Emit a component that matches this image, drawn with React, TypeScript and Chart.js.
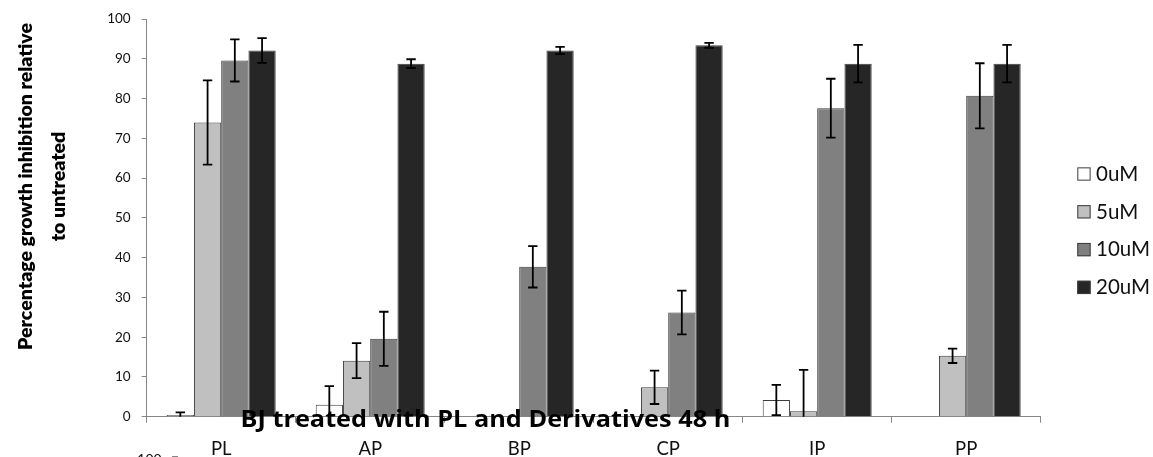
import React, { useEffect, useRef } from 'react';
import { Chart, registerables } from 'chart.js';

Chart.register(...registerables);

// ---------- data ----------
const categories = ['PL', 'AP', 'BP', 'CP', 'IP', 'PP'];
const seriesLabels = ['0uM', '5uM', '10uM', '20uM'];

const values0uM = [0.4, 3.0, 0, 0, 4.2, 0];
const errors0uM = [0.7, 4.7, 0, 0, 3.8, 0];

const values5uM = [74.0, 14.1, 0, 7.4, 1.4, 15.3];
const errors5uM = [10.6, 4.4, 0, 4.2, 10.4, 1.8];

const values10uM = [89.6, 19.6, 37.7, 26.2, 77.6, 80.7];
const errors10uM = [5.3, 6.8, 5.2, 5.5, 7.4, 8.2];

const values20uM = [92.1, 88.8, 92.1, 93.4, 88.8, 88.8];
const errors20uM = [3.1, 1.1, 0.9, 0.6, 4.7, 4.7];

const yMin = 0;
const yMax = 100;
const yStep = 10;

const chartTitle = 'BJ treated with PL and Derivatives 48 h';
const yTitleLines = ['Percentage growth inhibition relative', 'to untreated'];
const nextChartTickLabel = '100';

// ---------- styles ----------
const seriesColors = ['#ffffff', '#c0c0c0', '#808080', '#262626'];
const barBorder = '#3c3c3c';
const axisColor = '#868686';
const textColor = '#111111';
const FONT = 'Lato, "Open Sans", sans-serif';
const TITLE_FONT = '"Open Sans", Lato, sans-serif';

const allValues = [values0uM, values5uM, values10uM, values20uM];
const allErrors = [errors0uM, errors5uM, errors10uM, errors20uM];

const errorBarPlugin = {
  id: 'errorBars',
  afterDatasetsDraw(chart: any) {
    const { ctx, chartArea } = chart;
    const yScale = chart.scales.y;
    ctx.save();
    ctx.beginPath();
    ctx.rect(chartArea.left, chartArea.top - 20, chartArea.right - chartArea.left, chartArea.bottom - chartArea.top + 20);
    ctx.clip();
    ctx.strokeStyle = '#000000';
    ctx.lineWidth = 1.8;
    chart.data.datasets.forEach((ds: any, i: number) => {
      const meta = chart.getDatasetMeta(i);
      const errs = allErrors[i];
      meta.data.forEach((bar: any, j: number) => {
        const e = errs[j];
        if (!e) return;
        const v = ds.data[j];
        const x = bar.x;
        const yT = yScale.getPixelForValue(v + e);
        const yB = yScale.getPixelForValue(v - e);
        const hw = 4.7;
        ctx.beginPath();
        ctx.moveTo(x, yT);
        ctx.lineTo(x, yB);
        ctx.moveTo(x - hw, yT);
        ctx.lineTo(x + hw, yT);
        ctx.moveTo(x - hw, yB);
        ctx.lineTo(x + hw, yB);
        ctx.stroke();
      });
    });
    ctx.restore();
  },
};

const decorPlugin = {
  id: 'decor',
  afterDraw(chart: any) {
    const { ctx } = chart;
    ctx.save();
    // legend
    const boxLeft = 1077.3;
    const boxSize = 13.3;
    const firstCenter = 174;
    const step = 37.8;
    chart.data.datasets.forEach((ds: any, i: number) => {
      const cy = firstCenter + i * step;
      ctx.fillStyle = ds.backgroundColor;
      ctx.fillRect(boxLeft, cy - boxSize / 2, boxSize, boxSize);
      ctx.strokeStyle = barBorder;
      ctx.lineWidth = 1;
      ctx.strokeRect(boxLeft + 0.5, cy - boxSize / 2 + 0.5, boxSize - 1, boxSize - 1);
      ctx.fillStyle = textColor;
      ctx.font = `20.5px ${FONT}`;
      ctx.textAlign = 'left';
      ctx.textBaseline = 'alphabetic';
      ctx.fillText(ds.label, 1096, cy + 6.8);
    });

    // y axis title (two lines, rotated)
    ctx.fillStyle = '#000000';
    ctx.font = `800 19.5px ${FONT}`;
    ctx.textAlign = 'center';
    ctx.textBaseline = 'alphabetic';
    const baselines = [32, 65];
    yTitleLines.forEach((line, k) => {
      ctx.save();
      ctx.translate(baselines[k], 186.5);
      ctx.rotate(-Math.PI / 2);
      ctx.fillText(line, 0, 0);
      ctx.restore();
    });

    // chart title overlapping axis
    ctx.save();
    ctx.font = `bold 23px ${TITLE_FONT}`;
    ctx.textAlign = 'center';
    ctx.translate(485.4, 427);
    ctx.scale(1.1, 1);
    ctx.fillText(chartTitle, 0, 0);
    ctx.restore();

    // partial tick label of the next chart below
    ctx.font = `14px ${FONT}`;
    ctx.textAlign = 'right';
    ctx.textBaseline = 'top';
    ctx.fillStyle = textColor;
    ctx.fillText(nextChartTickLabel, 161.7, 452.5);
    ctx.strokeStyle = axisColor;
    ctx.lineWidth = 1;
    ctx.beginPath();
    ctx.moveTo(172, 456.5);
    ctx.lineTo(178, 456.5);
    ctx.stroke();
    ctx.restore();
  },
};

export default function App() {
  const canvasRef = useRef<HTMLCanvasElement | null>(null);

  useEffect(() => {
    if (!canvasRef.current) return;
    const chart = new Chart(canvasRef.current, {
      type: 'bar',
      data: {
        labels: categories,
        datasets: seriesLabels.map((label, i) => ({
          label,
          data: allValues[i],
          backgroundColor: seriesColors[i],
          borderColor: barBorder,
          borderWidth: 1,
          categoryPercentage: 0.7315,
          barPercentage: 1,
        })),
      },
      options: {
        animation: false,
        responsive: true,
        maintainAspectRatio: false,
        layout: { padding: { left: 0, right: 112.3, top: 17.8, bottom: 0 } },
        plugins: {
          legend: { display: false },
          tooltip: { enabled: false },
          title: { display: false },
        },
        scales: {
          x: {
            grid: {
              display: true,
              drawOnChartArea: false,
              drawTicks: true,
              tickLength: 6,
              color: axisColor,
              offset: true,
            },
            border: { display: true, color: axisColor, width: 1 },
            ticks: {
              color: textColor,
              font: { family: FONT, size: 18.5 },
              padding: 15,
              maxRotation: 0,
              autoSkip: false,
            },
            afterFit: (scale: any) => {
              scale.height = 40.3;
            },
          },
          y: {
            min: yMin,
            max: yMax,
            grid: {
              display: true,
              drawOnChartArea: false,
              drawTicks: true,
              tickLength: 5,
              color: axisColor,
            },
            border: { display: true, color: axisColor, width: 1 },
            ticks: {
              stepSize: yStep,
              color: textColor,
              font: { family: FONT, size: 13.5 },
              padding: 11,
            },
            afterFit: (scale: any) => {
              scale.width = 146.7;
            },
          },
        },
      },
      plugins: [errorBarPlugin, decorPlugin],
    });
    return () => chart.destroy();
  }, []);

  return (
    <div style={{ position: 'fixed', left: 0, top: 0, width: 1153, height: 457, background: '#ffffff' }}>
      <canvas ref={canvasRef} />
    </div>
  );
}
